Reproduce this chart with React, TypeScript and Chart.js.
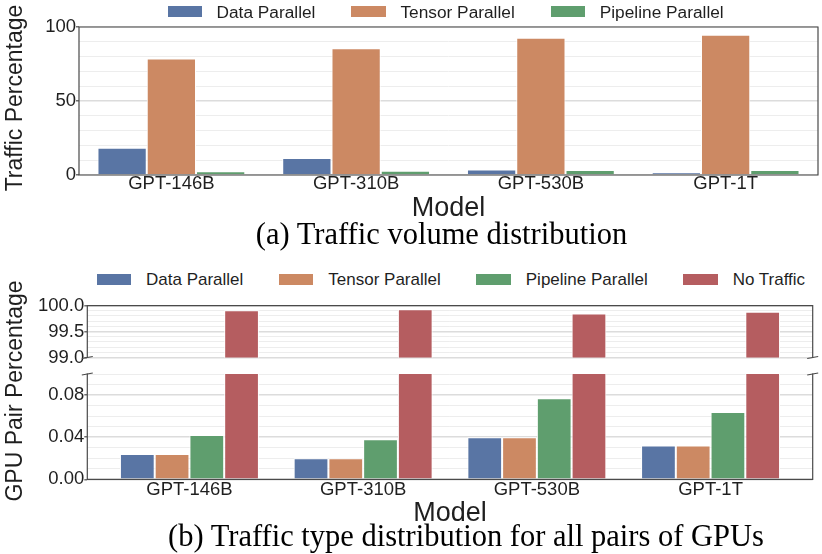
import React, { useEffect, useRef } from 'react';
import { Chart, registerables } from 'chart.js';

Chart.register(...registerables);

// ---------------- data ----------------
const models = ['GPT-146B', 'GPT-310B', 'GPT-530B', 'GPT-1T'];

const volumeSeriesNames = ['Data Parallel', 'Tensor Parallel', 'Pipeline Parallel'];
const volumeDataParallel = [18.4, 11.5, 3.8, 1.8];
const volumeTensorParallel = [78.8, 85.6, 92.8, 94.8];
const volumePipelineParallel = [2.5, 2.9, 3.4, 3.4];

const pairSeriesNames = ['Data Parallel', 'Tensor Parallel', 'Pipeline Parallel', 'No Traffic'];
const pairDataParallel = [0.024, 0.02, 0.04, 0.032];
const pairTensorParallel = [0.024, 0.02, 0.04, 0.032];
const pairPipelineParallel = [0.042, 0.038, 0.077, 0.064];
const pairNoTraffic = [99.91, 99.93, 99.85, 99.88];

const volumeTicks = [0, 50, 100];
const pairUpperTicks = [99.0, 99.5, 100.0];
const pairLowerTicks = [0.0, 0.04, 0.08];

// ---------------- styles ----------------
const seriesColors = ['#5975a4', '#cc8963', '#5f9e6e', '#b55d60'];
const SANS = '"Liberation Sans", Arial, Helvetica, sans-serif';
const SERIF = '"Liberation Serif", "Times New Roman", serif';
const TEXT = '#1f1f1f';
const SPINE = '#4a4a4a';
const GRID_MAJOR = '#dcdcdc';
const GRID_MINOR = '#ededed';

const framePlugin = {
  id: 'frame',
  afterDatasetsDraw(chart: any, _args: any, opts: any) {
    const { ctx, chartArea } = chart;
    const { left, right, top, bottom } = chartArea;
    const sides: string[] = opts.sides || [];
    ctx.save();
    ctx.strokeStyle = SPINE;
    ctx.lineWidth = 1.2;
    ctx.lineCap = 'square';
    ctx.beginPath();
    if (sides.includes('top')) { ctx.moveTo(left, top); ctx.lineTo(right, top); }
    if (sides.includes('bottom')) { ctx.moveTo(left, bottom); ctx.lineTo(right, bottom); }
    if (sides.includes('left')) { ctx.moveTo(left, top); ctx.lineTo(left, bottom); }
    if (sides.includes('right')) { ctx.moveTo(right, top); ctx.lineTo(right, bottom); }
    ctx.stroke();
    if (opts.breakAt) {
      const y = opts.breakAt === 'bottom' ? bottom : top;
      ctx.lineCap = 'butt';
      ctx.beginPath();
      [left, right].forEach((x) => {
        ctx.moveTo(x - 5.5, y + 1);
        ctx.lineTo(x + 5.5, y - 1);
      });
      ctx.stroke();
    }
    ctx.restore();
  },
};

type PanelCfg = {
  series: number[][];
  names: string[];
  yMin: number;
  yMax: number;
  yStep: number;
  labelTicks: number[];
  decimals: number;
  yWidth: number;
  xMin: number;
  xMax: number;
  showX: boolean;
  xHeight: number;
  xPad: number;
  padding: { top: number; right: number; bottom: number; left: number };
  sides: string[];
  breakAt: string | null;
};

const near = (a: number, b: number) => Math.abs(a - b) < 1e-6;
const isLabelTick = (v: number, list: number[]) => list.some((t) => near(t, v));

function buildConfig(c: PanelCfg): any {
  const tickFont = { family: SANS, size: 18.5, lineHeight: 1 };
  return {
    type: 'bar',
    data: {
      datasets: c.series.map((vals, k) => ({
        label: c.names[k],
        data: vals.map((y, i) => ({ x: i, y })),
        backgroundColor: seriesColors[k],
        borderColor: '#ffffff',
        borderWidth: 1,
        borderSkipped: 'start',
        categoryPercentage: 0.8,
        barPercentage: 1,
        clip: 0,
      })),
    },
    options: {
      animation: false,
      responsive: false,
      events: [],
      layout: { padding: c.padding },
      plugins: {
        legend: { display: false },
        tooltip: { enabled: false },
        frame: { sides: c.sides, breakAt: c.breakAt },
      },
      scales: {
        x: {
          type: 'linear',
          min: c.xMin,
          max: c.xMax,
          offset: false,
          display: c.showX,
          grid: { display: false, drawTicks: false },
          border: { display: false },
          afterBuildTicks: (axis: any) => {
            axis.ticks = models.map((_, i) => ({ value: i }));
          },
          afterFit: (axis: any) => {
            axis.height = c.xHeight;
          },
          ticks: {
            autoSkip: false,
            maxRotation: 0,
            padding: c.xPad,
            color: TEXT,
            font: tickFont,
            callback: (v: number) => models[Math.round(v)] ?? '',
          },
        },
        y: {
          type: 'linear',
          min: c.yMin,
          max: c.yMax,
          afterFit: (axis: any) => {
            axis.width = c.yWidth;
          },
          border: { display: false },
          grid: {
            color: (ctx: any) => (isLabelTick(ctx.tick.value, c.labelTicks) ? GRID_MAJOR : GRID_MINOR),
            lineWidth: (ctx: any) => (isLabelTick(ctx.tick.value, c.labelTicks) ? 1.6 : 1),
            tickColor: (ctx: any) => (isLabelTick(ctx.tick.value, c.labelTicks) ? SPINE : 'rgba(0,0,0,0)'),
            tickWidth: 1.2,
            tickLength: 3,
            drawTicks: true,
          },
          ticks: {
            stepSize: c.yStep,
            autoSkip: false,
            padding: 0,
            color: TEXT,
            font: tickFont,
            callback: (v: number) => (isLabelTick(v, c.labelTicks) ? v.toFixed(c.decimals) : ''),
          },
        },
      },
    },
    plugins: [framePlugin],
  };
}

function ChartCanvas({ cfg, top, height }: { cfg: PanelCfg; top: number; height: number }) {
  const ref = useRef<HTMLCanvasElement | null>(null);
  useEffect(() => {
    if (!ref.current) return;
    const chart = new Chart(ref.current, buildConfig(cfg));
    return () => chart.destroy();
  }, [cfg]);
  return (
    <canvas
      ref={ref}
      width={822}
      height={height}
      style={{ position: 'absolute', left: 0, top, width: 822, height }}
    />
  );
}

function Legend({ names, left, centerY, fontSize, gap, innerGap }: { names: string[]; left: number; centerY: number; fontSize: number; gap: number; innerGap: number }) {
  return (
    <div
      style={{
        position: 'absolute',
        left,
        top: centerY - 10,
        height: 20,
        display: 'flex',
        alignItems: 'center',
        whiteSpace: 'nowrap',
        fontFamily: SANS,
        fontSize,
        color: TEXT,
      }}
    >
      {names.map((n, k) => (
        <div key={n} style={{ display: 'flex', alignItems: 'center', marginRight: k < names.length - 1 ? gap : 0 }}>
          <div style={{ width: 34.5, height: 11, background: seriesColors[k], marginRight: innerGap }} />
          <span style={{ lineHeight: '20px' }}>{n}</span>
        </div>
      ))}
    </div>
  );
}

function Text({ text, cx, top, size, family, rotate }: { text: string; cx: number; top: number; size: number; family: string; rotate?: boolean }) {
  if (rotate) {
    return (
      <div
        style={{
          position: 'absolute',
          left: cx,
          top,
          transform: 'translate(-50%, -50%) rotate(-90deg)',
          fontFamily: family,
          fontSize: size,
          lineHeight: 1,
          whiteSpace: 'nowrap',
          color: TEXT,
        }}
      >
        {text}
      </div>
    );
  }
  return (
    <div
      style={{
        position: 'absolute',
        left: cx,
        top,
        transform: 'translateX(-50%)',
        fontFamily: family,
        fontSize: size,
        lineHeight: 1,
        whiteSpace: 'nowrap',
        color: family === SERIF ? '#000' : TEXT,
      }}
    >
      {text}
    </div>
  );
}

const topCfg: PanelCfg = {
  series: [volumeDataParallel, volumeTensorParallel, volumePipelineParallel],
  names: volumeSeriesNames,
  yMin: 0,
  yMax: 100,
  yStep: 10,
  labelTicks: volumeTicks,
  decimals: 0,
  yWidth: 79,
  xMin: -0.5,
  xMax: 3.5,
  showX: true,
  xHeight: 25,
  xPad: 0,
  padding: { top: 27, right: 4, bottom: 0, left: 0 },
  sides: ['top', 'bottom', 'left', 'right'],
  breakAt: null,
};

const upperCfg: PanelCfg = {
  series: [pairDataParallel, pairTensorParallel, pairPipelineParallel, pairNoTraffic],
  names: pairSeriesNames,
  yMin: 99,
  yMax: 100,
  yStep: 0.1,
  labelTicks: pairUpperTicks,
  decimals: 1,
  yWidth: 87.3,
  xMin: -0.588,
  xMax: 3.588,
  showX: false,
  xHeight: 0,
  xPad: 0,
  padding: { top: 15.6, right: 9.3, bottom: 12.5, left: 0 },
  sides: ['top', 'left', 'right'],
  breakAt: 'bottom',
};

const lowerCfg: PanelCfg = {
  series: [pairDataParallel, pairTensorParallel, pairPipelineParallel, pairNoTraffic],
  names: pairSeriesNames,
  yMin: 0,
  yMax: 0.1,
  yStep: 0.01,
  labelTicks: pairLowerTicks,
  decimals: 2,
  yWidth: 87.3,
  xMin: -0.588,
  xMax: 3.588,
  showX: true,
  xHeight: 30,
  xPad: 1.5,
  padding: { top: 12, right: 9.3, bottom: 12.7, left: 0 },
  sides: ['bottom', 'left', 'right'],
  breakAt: 'top',
};

export default function App() {
  return (
    <div style={{ position: 'absolute', left: 0, top: 0, width: 822, height: 554, background: '#ffffff', overflow: 'hidden' }}>
      <ChartCanvas cfg={topCfg} top={0} height={200} />
      <ChartCanvas cfg={upperCfg} top={290} height={80} />
      <ChartCanvas cfg={lowerCfg} top={362} height={160} />

      <Legend names={volumeSeriesNames} left={167.5} centerY={11.7} fontSize={17.3} gap={36} innerGap={14.5} />
      <Legend names={pairSeriesNames} left={96.5} centerY={279.5} fontSize={17} gap={35.5} innerGap={15} />

      <Text text="Traffic Percentage" cx={13.5} top={98} size={23} family={SANS} rotate />
      <Text text="GPU Pair Percentage" cx={13.8} top={391} size={23} family={SANS} rotate />

      <Text text="Model" cx={448.5} top={193.8} size={27} family={SANS} />
      <Text text="Model" cx={450} top={498.8} size={27} family={SANS} />

      <Text text="(a) Traffic volume distribution" cx={441.5} top={218.5} size={30.5} family={SERIF} />
      <Text text="(b) Traffic type distribution for all pairs of GPUs" cx={466} top={521} size={30.5} family={SERIF} />
    </div>
  );
}
